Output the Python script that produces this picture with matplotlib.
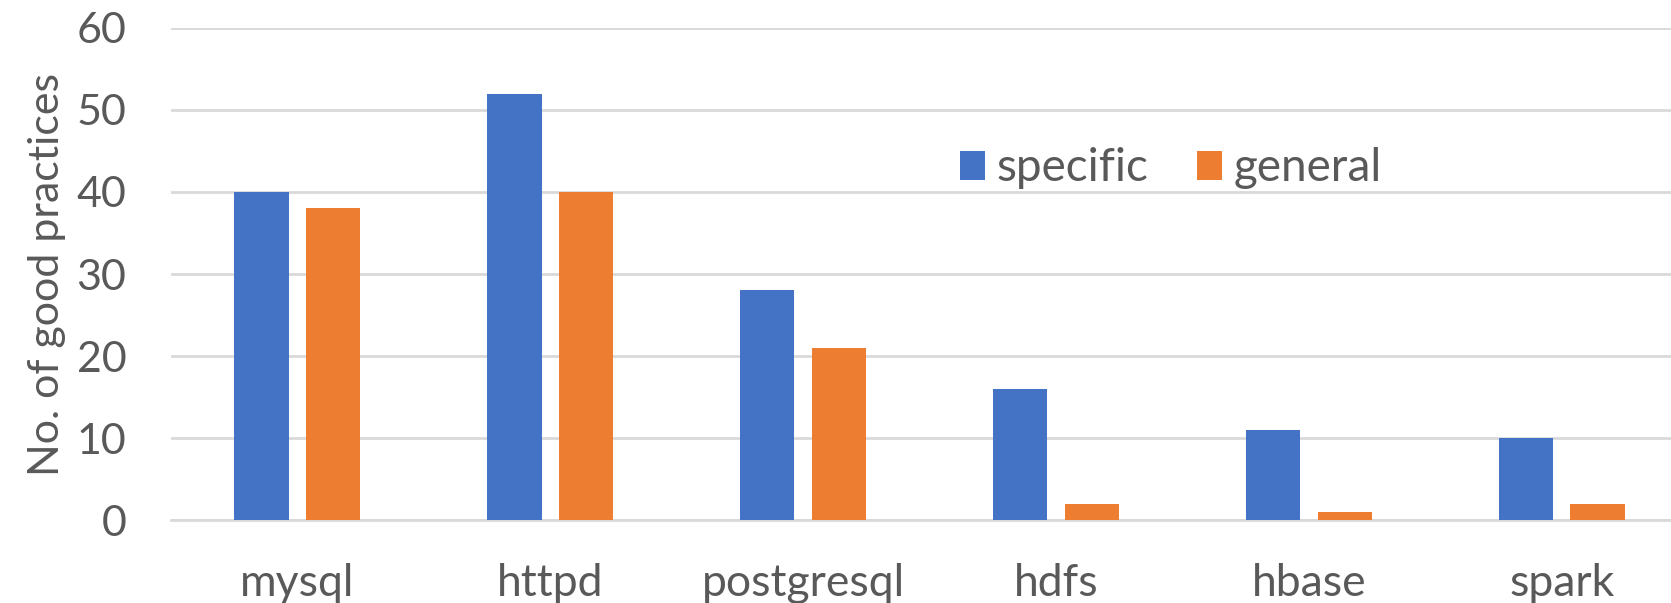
import matplotlib
matplotlib.use("Agg")
import matplotlib.pyplot as plt
import numpy as np

# data
projects = ['mysql', 'httpd', 'postgresql', 'hdfs', 'hbase', 'spark']
specific = [40, 52, 28, 16, 11, 10]
general = [38, 40, 21, 2, 1, 2]

blue = '#4472C4'
orange = '#ED7D31'
text_col = '#595959'
grid_col = '#D9D9D9'

plt.rcParams['font.family'] = ['Lato', 'DejaVu Sans']

fig = plt.figure(figsize=(16.71, 6.03), dpi=100)
ax = fig.add_axes([0.1023, 0.1376, 0.908, 0.816])

x = np.arange(len(projects))
w = 0.215
ax.bar(x - 0.142, specific, w, color=blue, label='specific', zorder=3)
ax.bar(x + 0.142, general, w, color=orange, label='general', zorder=3)

ax.set_xlim(-0.5, len(projects) - 0.5)
ax.set_ylim(0, 60)
ax.set_yticks(range(0, 61, 10))
ax.set_xticks(x)
ax.set_xticklabels(projects)

ax.yaxis.grid(True, color=grid_col, linewidth=2, zorder=0)
ax.set_axisbelow(True)
for s in ['top', 'right', 'left']:
    ax.spines[s].set_visible(False)
ax.spines['bottom'].set_color(grid_col)
ax.spines['bottom'].set_linewidth(2)
ax.tick_params(axis='both', length=0, labelsize=31, colors=text_col)
ax.tick_params(axis='x', labelsize=32, pad=31)
ax.tick_params(axis='y', pad=32)

ax.set_ylabel('No. of good practices', fontsize=31, color=text_col, labelpad=8)

leg = ax.legend(loc='center left', bbox_to_anchor=(0.493, 0.715), ncol=2,
                frameon=False, fontsize=33, handlelength=0.55, handleheight=0.6,
                handletextpad=0.25, columnspacing=1.05)
for t in leg.get_texts():
    t.set_color(text_col)

fig.savefig('out.png', dpi=100)
